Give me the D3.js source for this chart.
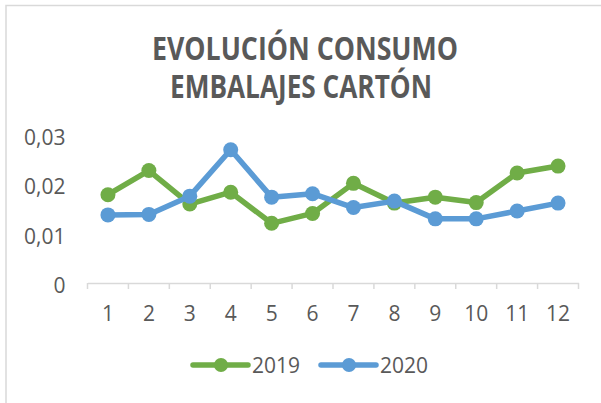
<!DOCTYPE html>
<html lang="es">
<head>
<meta charset="UTF-8">
<script src="https://cdn.jsdelivr.net/npm/d3@7"></script>
<title>Evolución consumo embalajes cartón</title>
<style>
  body { margin: 0; background: #fff; }
  text { font-family: "Open Sans", sans-serif; fill: #595959; }
</style>
</head>
<body>
<script>
// datos
var months = ["1","2","3","4","5","6","7","8","9","10","11","12"];
var serie2019 = [0.0179, 0.0228, 0.0160, 0.0184, 0.0121, 0.0141, 0.0202, 0.0162, 0.0174, 0.0163, 0.0223, 0.0237];
var serie2020 = [0.0138, 0.0139, 0.0176, 0.0270, 0.0174, 0.0181, 0.0153, 0.0166, 0.0130, 0.0130, 0.0146, 0.0162];
var yTicks = [0, 0.01, 0.02, 0.03];
var seriesNames = ["2019", "2020"];
var colors = ["#70AD47", "#5B9BD5"];

var W = 601, H = 403;
var svg = d3.select("body").append("svg")
    .attr("width", W).attr("height", H);

// borde del area del grafico (solo arriba e izquierda visibles)
svg.append("path")
    .attr("d", "M6,403 V5.5 H601")
    .attr("fill", "none")
    .attr("stroke", "#d9d9d9")
    .attr("stroke-width", 1.5);

// titulo
var title = svg.append("g").attr("font-weight", "bold").attr("font-size", 33);
title.append("text").attr("x", 152).attr("y", 59.5)
    .attr("textLength", 306).attr("lengthAdjust", "spacingAndGlyphs")
    .text("EVOLUCIÓN CONSUMO");
title.append("text").attr("x", 170).attr("y", 97.5)
    .attr("textLength", 262).attr("lengthAdjust", "spacingAndGlyphs")
    .text("EMBALAJES CARTÓN");

var x = d3.scaleBand().domain(months).range([87.5, 578.5]).padding(0);
var y = d3.scaleLinear().domain([0, 0.03]).range([283, 135]);

var es = d3.formatLocale({decimal: ",", thousands: ".", grouping: [3], currency: ["", "€"]});
var fmt = function(d) { return d === 0 ? "0" : es.format(".2f")(d); };

// eje y (solo etiquetas)
var yAxis = svg.append("g")
    .attr("transform", "translate(87.5,0)")
    .call(d3.axisLeft(y).tickValues(yTicks).tickFormat(fmt).tickSize(0).tickPadding(22));
yAxis.select(".domain").remove();
yAxis.selectAll("text").attr("font-size", 21).attr("dy", "0.45em")
    .attr("font-family", "Open Sans").style("fill", "#595959");

// eje x
var xAxis = svg.append("g")
    .attr("transform", "translate(0,283)")
    .call(d3.axisBottom(x).tickSize(0).tickPadding(23));
xAxis.select(".domain").attr("stroke", "#d9d9d9").attr("stroke-width", 1.5);
xAxis.selectAll("text").attr("font-size", 21)
    .attr("font-family", "Open Sans").style("fill", "#595959");

// marcas entre categorias
var bounds = months.map(function(m) { return x(m); }).concat([x.range()[1]]);
svg.append("g").selectAll("line")
    .data(bounds)
    .enter().append("line")
    .attr("x1", function(d) { return d; })
    .attr("x2", function(d) { return d; })
    .attr("y1", 283).attr("y2", 289)
    .attr("stroke", "#d9d9d9")
    .attr("stroke-width", 1.5);

var cx = function(d, i) { return x(months[i]) + x.bandwidth() / 2; };
var line = d3.line().x(cx).y(function(d) { return y(d); });

[serie2019, serie2020].forEach(function(vals, k) {
    var g = svg.append("g");
    g.append("path")
        .datum(vals)
        .attr("d", line)
        .attr("fill", "none")
        .attr("stroke", colors[k])
        .attr("stroke-width", 5.5)
        .attr("stroke-linejoin", "round")
        .attr("stroke-linecap", "round");
    g.selectAll("circle")
        .data(vals)
        .enter().append("circle")
        .attr("cx", cx)
        .attr("cy", function(d) { return y(d); })
        .attr("r", 7.5)
        .attr("fill", colors[k]);
});

// leyenda
var legendX = [193, 321];
var legend = svg.append("g").selectAll("g")
    .data(seriesNames)
    .enter().append("g")
    .attr("transform", function(d, i) { return "translate(" + legendX[i] + ",365)"; });
legend.append("line")
    .attr("x1", 0).attr("x2", 55)
    .attr("stroke", function(d, i) { return colors[i]; })
    .attr("stroke-width", 5.5)
    .attr("stroke-linecap", "round");
legend.append("circle")
    .attr("cx", 28).attr("r", 7)
    .attr("fill", function(d, i) { return colors[i]; });
legend.append("text")
    .attr("x", 59).attr("y", 8)
    .attr("font-size", 21)
    .text(function(d) { return d; });
</script>
</body>
</html>
